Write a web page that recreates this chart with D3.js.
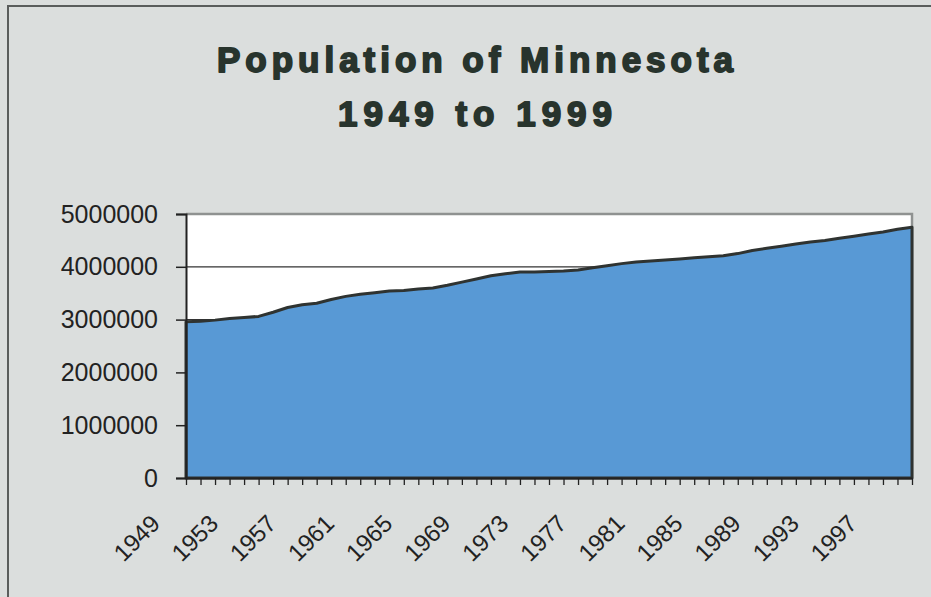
<!DOCTYPE html>
<html>
<head>
<meta charset="utf-8">
<script src="https://cdn.jsdelivr.net/npm/d3@7"></script>
<style>
  body { margin: 0; background: #dbdedd; }
  svg { display: block; }
</style>
</head>
<body>
<svg width="931" height="597"></svg>
<script>
// data
var years = d3.range(1949, 2000);
var population = [
  2960000, 2970000, 2990000, 3020000, 3040000, 3060000, 3140000, 3230000, 3280000, 3310000,
  3380000, 3440000, 3480000, 3510000, 3540000, 3550000, 3580000, 3600000, 3650000, 3710000,
  3770000, 3830000, 3870000, 3900000, 3900000, 3910000, 3920000, 3940000, 3980000, 4020000,
  4060000, 4090000, 4110000, 4130000, 4150000, 4170000, 4190000, 4210000, 4250000, 4310000,
  4350000, 4390000, 4430000, 4470000, 4500000, 4540000, 4580000, 4620000, 4660000, 4710000,
  4750000
];
var yTicks = [0, 1000000, 2000000, 3000000, 4000000, 5000000];
var labelYears = [1949, 1953, 1957, 1961, 1965, 1969, 1973, 1977, 1981, 1985, 1989, 1993, 1997];
var titleLines = ["Population of Minnesota", "1949 to 1999"];

var data = years.map(function(d, i) { return { year: d, value: population[i] }; });

var plot = { left: 186, right: 912, top: 214, bottom: 478 };

var svg = d3.select("svg");

// outer frame
svg.append("path")
    .attr("d", "M8,600 L8,6 L940,6")
    .attr("fill", "none")
    .attr("stroke", "#5a5d5c")
    .attr("stroke-width", 2);

// title
svg.selectAll(".title")
    .data(titleLines)
    .enter().append("text")
    .attr("class", "title")
    .attr("x", 475)
    .attr("y", function(d, i) { return i == 0 ? 72 : 126; })
    .attr("text-anchor", "middle")
    .attr("textLength", function(d, i) { return i == 0 ? 516 : 274; })
    .attr("lengthAdjust", "spacing")
    .style("font-family", "'Liberation Sans', Arial, sans-serif")
    .style("font-weight", "bold")
    .style("font-size", "35px")
    .style("fill", "#28342d")
    .style("paint-order", "stroke")
    .style("stroke", "#28342d")
    .style("stroke-width", "1.8px")
    .style("stroke-linejoin", "round")
    .text(function(d) { return d; });

var x = d3.scalePoint()
    .domain(years)
    .range([plot.left, plot.right]);

var y = d3.scaleLinear()
    .domain([0, 5000000])
    .range([plot.bottom, plot.top]);

// plot background
svg.append("rect")
    .attr("x", plot.left)
    .attr("y", plot.top)
    .attr("width", plot.right - plot.left)
    .attr("height", plot.bottom - plot.top)
    .attr("fill", "#ffffff");

// gridlines
svg.append("g")
    .selectAll("line")
    .data(yTicks.filter(function(d) { return d > 0 && d < 5000000; }))
    .enter().append("line")
    .attr("x1", plot.left)
    .attr("x2", plot.right)
    .attr("y1", function(d) { return y(d); })
    .attr("y2", function(d) { return y(d); })
    .attr("stroke", "#333")
    .attr("stroke-width", 1.2);

// plot border top and right
svg.append("path")
    .attr("d", "M" + plot.left + "," + plot.top + " L" + plot.right + "," + plot.top + " L" + plot.right + "," + plot.bottom)
    .attr("fill", "none")
    .attr("stroke", "#8f9291")
    .attr("stroke-width", 2.5);

// area
var area = d3.area()
    .x(function(d) { return x(d.year); })
    .y0(y(0))
    .y1(function(d) { return y(d.value); });

svg.append("path")
    .datum(data)
    .attr("d", area)
    .attr("fill", "#5899d5")
    .attr("stroke", "#2f3331")
    .attr("stroke-width", 3)
    .attr("stroke-linejoin", "round");

// y axis
var yAxis = svg.append("g")
    .attr("transform", "translate(" + plot.left + ",0)")
    .call(d3.axisLeft(y).tickValues(yTicks).tickSize(10).tickPadding(18).tickFormat(d3.format("d")));

yAxis.select(".domain").attr("stroke", "#222").attr("stroke-width", 2);
yAxis.selectAll(".tick line").attr("stroke", "#222").attr("stroke-width", 1.5);
yAxis.selectAll("text")
    .style("font-family", "'Liberation Sans', Arial, sans-serif")
    .style("font-size", "25px")
    .style("fill", "#222");

// x axis
var xAxis = svg.append("g")
    .attr("transform", "translate(0," + plot.bottom + ")")
    .call(d3.axisBottom(x).tickSize(7).tickSizeOuter(0)
        .tickFormat(function(d) { return labelYears.indexOf(d) >= 0 ? d : ""; }));

xAxis.select(".domain").attr("stroke", "#222").attr("stroke-width", 2);
xAxis.selectAll(".tick line").attr("stroke", "#222").attr("stroke-width", 1.3);
xAxis.selectAll("text")
    .attr("x", 0)
    .attr("y", 0)
    .attr("dy", 0)
    .attr("transform", "translate(-25,47) rotate(-45)")
    .style("text-anchor", "end")
    .style("font-family", "'Liberation Sans', Arial, sans-serif")
    .style("font-size", "24px")
    .style("fill", "#222");
</script>
</body>
</html>
